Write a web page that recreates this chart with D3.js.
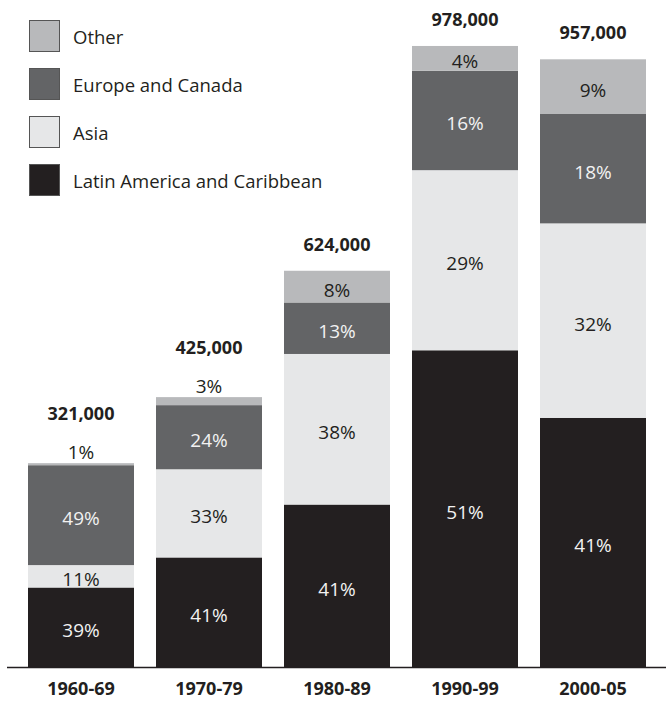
<!DOCTYPE html>
<html><head><meta charset="utf-8">
<script src="https://cdn.jsdelivr.net/npm/d3@7"></script>
<style>html,body{margin:0;padding:0;background:#fff;}svg{display:block;}</style>
</head><body>
<svg id="chart" width="666" height="703"></svg>
<script>
const periods = ["1960-69", "1970-79", "1980-89", "1990-99", "2000-05"];
const totals = [321000, 425000, 624000, 978000, 957000];
const totalLabels = ["321,000", "425,000", "624,000", "978,000", "957,000"];
const latinAmerica = [39, 41, 41, 51, 41];
const asia = [11, 33, 38, 29, 32];
const europeCanada = [49, 24, 13, 16, 18];
const other = [1, 3, 8, 4, 9];
const seriesNames = ["Latin America and Caribbean", "Asia", "Europe and Canada", "Other"];
const colors = ["#231f20", "#e6e7e8", "#636466", "#b8b9bb"];
const labelColors = ["#f2f2f2", "#231f20", "#f2f2f2", "#231f20"];

const font = "'Open Sans', sans-serif";
const svg = d3.select("#chart");
const baseY = 667;
const y = d3.scaleLinear().domain([0, 1000000]).range([baseY, 32]);
const x = d3.scaleBand().domain(periods).range([28 - 11, 646 + 11]).paddingInner(22/128).paddingOuter(11/128);

const seriesVals = [latinAmerica, asia, europeCanada, other];
const rows = periods.map((p, i) => {
  const pcts = seriesVals.map(s => s[i]);
  const sum = d3.sum(pcts);
  const r = {period: p};
  seriesNames.forEach((n, k) => r[n] = totals[i] * pcts[k] / sum);
  return r;
});
const stack = d3.stack().keys(seriesNames)(rows);

const g = svg.append("g");
stack.forEach((layer, k) => {
  layer.forEach((d, i) => {
    const y0 = y(d[0]), y1 = y(d[1]);
    g.append("rect")
      .attr("x", x(periods[i])).attr("width", x.bandwidth())
      .attr("y", y1).attr("height", y0 - y1)
      .attr("fill", colors[k]);
    const h = y0 - y1;
    const pct = seriesVals[k][i] + "%";
    if (h >= 16) {
      g.append("text")
        .attr("x", x(periods[i]) + x.bandwidth() / 2)
        .attr("y", (y0 + y1) / 2 + 3)
        .attr("text-anchor", "middle").attr("dominant-baseline", "central")
        .attr("font-family", font).attr("font-size", 19)
        .attr("fill", labelColors[k]).text(pct);
    } else {
      g.append("text")
        .attr("x", x(periods[i]) + x.bandwidth() / 2)
        .attr("y", y1 - 11)
        .attr("text-anchor", "middle").attr("dominant-baseline", "central")
        .attr("font-family", font).attr("font-size", 19)
        .attr("fill", "#231f20").text(pct);
    }
  });
});

// totals
periods.forEach((p, i) => {
  const top = y(totals[i]);
  const topLayer = stack[3][i];
  const small = (y(topLayer[0]) - y(topLayer[1])) < 16;
  svg.append("text")
    .attr("x", x(p) + x.bandwidth() / 2)
    .attr("y", small ? top - 50 : top - 27)
    .attr("text-anchor", "middle").attr("dominant-baseline", "central")
    .attr("font-family", font).attr("font-size", 18).attr("font-weight", "bold")
    .attr("fill", "#231f20").text(totalLabels[i]);
});

// baseline axis
const xAxis = d3.axisBottom(x).tickSize(0).tickPadding(15);
const ax = svg.append("g").attr("transform", `translate(0,${baseY})`).call(xAxis);
ax.select(".domain").remove();
ax.selectAll("text").attr("font-family", font).attr("font-size", 18).attr("font-weight", "bold").attr("fill", "#231f20");
svg.append("line").attr("x1", 7).attr("x2", 666).attr("y1", baseY + 0.5).attr("y2", baseY + 0.5)
  .attr("stroke", "#231f20").attr("stroke-width", 1.3);

// legend
const legendOrder = [3, 2, 1, 0];
legendOrder.forEach((k, j) => {
  const ly = 20 + j * 48;
  svg.append("rect").attr("x", 29.5).attr("y", ly + 0.5).attr("width", 30).attr("height", 31)
    .attr("fill", colors[k]).attr("stroke", "#555").attr("stroke-width", 1);
  svg.append("text").attr("x", 73).attr("y", ly + 16).attr("dominant-baseline", "central")
    .attr("font-family", font).attr("font-size", 18.5).attr("fill", "#231f20").text(seriesNames[k]);
});
</script>
</body></html>
